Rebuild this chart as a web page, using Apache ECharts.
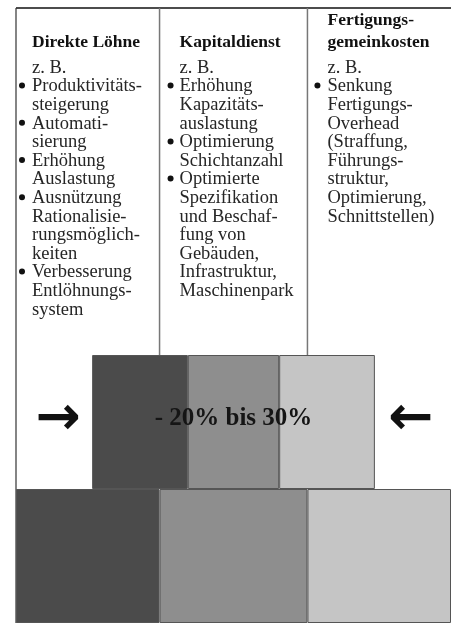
<!DOCTYPE html>
<html><head><meta charset="utf-8">
<script src="https://cdn.jsdelivr.net/npm/echarts/dist/echarts.min.js"></script>
<style>html,body{margin:0;padding:0;background:#fff}#c{width:451px;height:623px}</style>
</head><body><div id="c"></div>
<script>
// ---- data ----
const categories = ['Heute', 'Ziel'];
const costTypes = ['Direkte Löhne', 'Kapitaldienst', 'Fertigungsgemeinkosten'];
const directWages = [33, 22];
const capitalService = [34, 21];
const productionOverheads = [33, 22];
const reductionLabel = '- 20% bis 30%';
const examplesLabel = 'z. B.';
const headers = [['Direkte Löhne'], ['Kapitaldienst'], ['Fertigungs-', 'gemeinkosten']];
const itemsDirectWages = [
  ['Produktivitäts-', 'steigerung'],
  ['Automati-', 'sierung'],
  ['Erhöhung', 'Auslastung'],
  ['Ausnützung', 'Rationalisie-', 'rungsmöglich-', 'keiten'],
  ['Verbesserung', 'Entlöhnungs-', 'system']
];
const itemsCapitalService = [
  ['Erhöhung', 'Kapazitäts-', 'auslastung'],
  ['Optimierung', 'Schichtanzahl'],
  ['Optimierte', 'Spezifikation', 'und Beschaf-', 'fung von', 'Gebäuden,', 'Infrastruktur,', 'Maschinenpark']
];
const itemsOverheads = [
  ['Senkung', 'Fertigungs-', 'Overhead', '(Straffung,', 'Führungs-', 'struktur,', 'Optimierung,', 'Schnittstellen)']
];

// ---- chart ----
const colors = ['#4b4b4b', '#8e8e8e', '#c5c5c5'];
const total = directWages[0] + capitalService[0] + productionOverheads[0];
const reduced = directWages[1] + capitalService[1] + productionOverheads[1];
const offset = [0, (total - reduced) / 2];
const chart = echarts.init(document.getElementById('c'));
const barStyle = c => ({ color: c, borderColor: '#555', borderWidth: 1 });
chart.setOption({
  animation: false,
  grid: { left: 16, right: 0, top: 355, height: 276 },
  xAxis: { type: 'value', min: 0, max: total, show: false },
  yAxis: { type: 'category', data: categories, show: false },
  series: [
    { type: 'bar', stack: 's', data: offset, barWidth: '100%', itemStyle: { color: 'rgba(0,0,0,0)' }, silent: true },
    { type: 'bar', stack: 's', name: costTypes[0], data: directWages, barWidth: '100%', itemStyle: barStyle(colors[0]) },
    { type: 'bar', stack: 's', name: costTypes[1], data: capitalService, barWidth: '100%', itemStyle: barStyle(colors[1]) },
    { type: 'bar', stack: 's', name: costTypes[2], data: productionOverheads, barWidth: '100%', itemStyle: barStyle(colors[2]) }
  ]
});

// ---- frame, text ----
const px = (x, cat) => chart.convertToPixel({ gridIndex: 0 }, [x, cat]);
const yTop = px(0, 1)[1], yBot = px(0, 0)[1];
const band = yBot - yTop;
const barTop = yTop - band / 2;
const div1 = px(directWages[0], 0)[0];
const div2 = px(directWages[0] + capitalService[0], 0)[0];
const leftX = px(0, 0)[0];
const frameTop = 8;
const g = [];
g.push({ type: 'line', shape: { x1: leftX, y1: frameTop, x2: 451, y2: frameTop }, style: { stroke: '#111', lineWidth: 1.5 } });
g.push({ type: 'line', shape: { x1: leftX, y1: frameTop, x2: leftX, y2: 623 }, style: { stroke: '#333', lineWidth: 1.2 } });
[div1, div2].forEach(x => g.push({ type: 'line', shape: { x1: x, y1: frameTop, x2: x, y2: barTop }, style: { stroke: '#777', lineWidth: 1.5 } }));

const font = 'Liberation Serif';
const bodyFont = '18.5px "' + font + '"';
const headFont = 'bold 17.5px "' + font + '"';
const colLeft = [leftX, div1, div2];
const textOff = [16, 20, 20];
const bulletOff = [6, 11, 10];
const columns = [itemsDirectWages, itemsCapitalService, itemsOverheads];
const headerBase = 42, headerStep = 22, bodyStart = 68, step = 18.6;
columns.forEach((items, ci) => {
  const tx = colLeft[ci] + textOff[ci];
  const bx = colLeft[ci] + bulletOff[ci];
  const hl = headers[ci];
  hl.forEach((h, i) => {
    g.push({ type: 'text', x: tx, y: headerBase - (hl.length - 1 - i) * headerStep,
      style: { text: h, font: headFont, fill: '#111', verticalAlign: 'middle', align: 'left' } });
  });
  let y = bodyStart;
  g.push({ type: 'text', x: tx, y: y, style: { text: examplesLabel, font: bodyFont, fill: '#262626', verticalAlign: 'middle' } });
  y += step;
  items.forEach(grp => {
    g.push({ type: 'circle', shape: { cx: bx, cy: y - 1, r: 3 }, style: { fill: '#111' } });
    grp.forEach(line => {
      g.push({ type: 'text', x: tx, y: y, style: { text: line, font: bodyFont, fill: '#262626', verticalAlign: 'middle' } });
      y += step;
    });
  });
});

// reduction label and arrows
const mid = px(total / 2, 1);
const topLeft = px(offset[1], 1)[0];
const topRight = px(offset[1] + reduced, 1)[0];
const labelY = mid[1] - 3;
g.push({ type: 'text', x: mid[0], y: labelY, z: 10, style: { text: reductionLabel, font: 'bold 25px "' + font + '"', fill: '#151515', align: 'center', verticalAlign: 'middle' } });
g.push({ type: 'text', x: topLeft - 34, y: labelY + 1, style: { text: '→', font: 'bold 54px "DejaVu Sans"', fill: '#111', align: 'center', verticalAlign: 'middle' } });
g.push({ type: 'text', x: topRight + 36, y: labelY + 1, style: { text: '←', font: 'bold 54px "DejaVu Sans"', fill: '#111', align: 'center', verticalAlign: 'middle' } });

chart.setOption({ graphic: { elements: g } });
</script></body></html>
